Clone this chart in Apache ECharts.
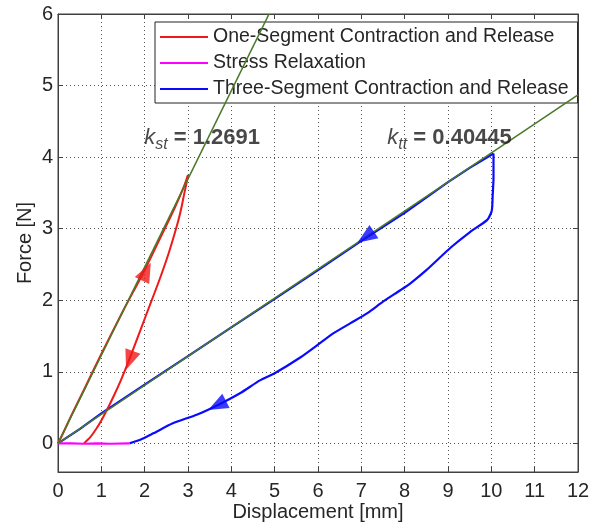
<!DOCTYPE html>
<html><head><meta charset="utf-8">
<script src="https://cdn.jsdelivr.net/npm/echarts@6/dist/echarts.min.js"></script>
<style>html,body{margin:0;padding:0;background:#fff}#c{width:601px;height:522px}</style>
</head><body><div id="c"></div>
<script>
const xTicks = [0,1,2,3,4,5,6,7,8,9,10,11,12];
const yTicks = [0,1,2,3,4,5,6];
const redLoad = [[0,0],[0.1,0.12],[0.3,0.38],[0.6,0.75],[1.0,1.25],[1.5,1.85],[2.0,2.42],[2.4,2.92],[2.7,3.3],[2.9,3.58],[3.0,3.75]];
const redUnload = [[3.0,3.75],[2.96,3.62],[2.91,3.48],[2.85,3.3],[2.78,3.12],[2.7,2.95],[2.55,2.65],[2.35,2.3],[2.15,1.98],[1.9,1.58],[1.65,1.18],[1.45,0.88],[1.3,0.68],[1.14,0.48],[1.0,0.32],[0.88,0.2],[0.75,0.09],[0.6,0.0]];
const magenta = [[0,0],[0.3,0],[0.6,-0.005],[0.9,0],[1.2,-0.005],[1.65,0]];
const blueLoad = [[0,0],[0.5,0.2],[1,0.42],[2,0.82],[3,1.22],[4,1.62],[5,2.02],[6,2.42],[7,2.83],[8,3.22],[9,3.65],[9.5,3.85],[10.05,4.05]];
const blueUnload = [[10.05,4.05],[10.05,3.7],[10.03,3.45],[10.02,3.3],[10.0,3.23],[9.9,3.12],[9.5,2.95],[9.07,2.74],[8.5,2.42],[8.14,2.24],[7.9,2.14],[7.5,1.98],[7.14,1.82],[6.75,1.68],[6.36,1.54],[6.0,1.38],[5.59,1.2],[5.0,0.98],[4.66,0.88],[4.2,0.7],[3.67,0.53],[3.2,0.4],[2.65,0.28],[2.2,0.14],[1.9,0.05],[1.65,0.0]];
const fitSt = [[0,0],[4.87,6]];
const fitTt = [[0,0],[12,4.87]];
const redArrows = [{value:[2.04,2.4], symbolRotate:-26},{value:[1.65,1.16], symbolRotate:160}];
const blueArrows = [{value:[7.1,2.88], symbolRotate:124},{value:[3.67,0.53], symbolRotate:117}];
const kst = {pos:[1.99,4.27], sub:'st', val:'1.2691'};
const ktt = {pos:[7.6,4.27], sub:'tt', val:'0.40445'};

const F = 'Liberation Sans, Arial, sans-serif';
const TXT = '#1a1a1a';
const AX = '#404040';
const chart = echarts.init(document.getElementById('c'));
const dotted = {show:true, lineStyle:{color:'#555', type:[1,3], width:1}};
const RED='#f01818', MAG='#ff00ff', BLUE='#0a0aff', GREEN='#4a7a2a';
function annot(a){
  return {type:'scatter', data:[a.pos], symbolSize:0, z:10, silent:true,
    label:{show:true, position:'right', distance:0,
      formatter:'{k|k}{s|'+a.sub+'}{v| = '+a.val+'}',
      rich:{k:{fontStyle:'italic', fontSize:22, fontFamily:F, color:TXT},
            s:{fontStyle:'italic', fontSize:16, fontFamily:F, color:TXT, padding:[13,0,0,0]},
            v:{fontWeight:'bold', fontSize:22, fontFamily:F, color:TXT}}}};
}
chart.setOption({
  animation:false,
  backgroundColor:'#fff',
  grid:{left:58, right:23, top:14, bottom:50, show:true, borderColor:AX, borderWidth:1, outerBoundsMode:'none', containLabel:false},
  legend:{left:155, top:22, orient:'vertical', backgroundColor:'#fff', borderColor:'#222', borderWidth:1,
    padding:[5,9,4,5], itemGap:6, itemWidth:48, itemHeight:2, icon:'rect',
    textStyle:{fontSize:19.5, fontFamily:F, color:'#262626', lineHeight:20},
    data:['One-Segment Contraction and Release','Stress Relaxation','Three-Segment Contraction and Release']},
  xAxis:[{type:'value', min:0, max:12, interval:1, name:'Displacement [mm]', nameLocation:'middle', nameGap:30, nameMoveOverlap:false,
    nameTextStyle:{fontSize:20, fontFamily:F, color:'#262626'},
    axisLine:{lineStyle:{color:AX}, onZero:false},
    axisTick:{inside:true, length:5, lineStyle:{color:AX}},
    axisLabel:{fontSize:20, fontFamily:F, color:'#262626', margin:9, customValues:xTicks},
    splitLine:dotted},
   {type:'value', min:0, max:12, interval:1, position:'top', axisLine:{lineStyle:{color:AX}, onZero:false},
    axisTick:{inside:true, length:5, lineStyle:{color:AX}}, axisLabel:{show:false}, splitLine:{show:false}}],
  yAxis:[{type:'value', min:-0.4, max:6, name:'Force [N]', nameLocation:'middle', nameGap:23, nameMoveOverlap:false,
    nameTextStyle:{fontSize:20, fontFamily:F, color:'#262626'},
    axisLine:{show:true, lineStyle:{color:AX}, onZero:false},
    axisTick:{show:true, inside:true, length:5, lineStyle:{color:AX}, customValues:yTicks},
    axisLabel:{fontSize:20, fontFamily:F, color:'#262626', margin:5, customValues:yTicks},
    splitLine:dotted},
   {type:'value', min:-0.4, max:6, position:'right',
    axisLine:{show:true, lineStyle:{color:AX}, onZero:false},
    axisTick:{show:true, inside:true, length:5, lineStyle:{color:AX}, customValues:yTicks},
    axisLabel:{show:false, customValues:yTicks}, splitLine:{show:false}}],
  series:[
    {name:'Three-Segment Contraction and Release', type:'line', data:blueLoad, symbol:'none', lineStyle:{color:BLUE, width:2.2}, itemStyle:{color:BLUE}, z:3},
    {name:'Three-Segment Contraction and Release', type:'line', data:blueUnload, symbol:'none', smooth:0.2, lineStyle:{color:BLUE, width:2.2}, itemStyle:{color:BLUE}, z:3},
    {name:'One-Segment Contraction and Release', type:'line', data:redLoad, symbol:'none', smooth:0.2, lineStyle:{color:RED, width:2}, itemStyle:{color:RED}, z:3},
    {name:'One-Segment Contraction and Release', type:'line', data:redUnload, symbol:'none', smooth:0.3, lineStyle:{color:RED, width:2}, itemStyle:{color:RED}, z:3},
    {name:'Stress Relaxation', type:'line', data:magenta, symbol:'none', lineStyle:{color:MAG, width:2.2}, itemStyle:{color:MAG}, z:4},
    {name:'fit1', type:'line', data:fitSt, symbol:'none', lineStyle:{color:GREEN, width:1.6}, z:5, silent:true},
    {name:'fit2', type:'line', data:fitTt, symbol:'none', lineStyle:{color:GREEN, width:1.6}, z:5, silent:true},
    {name:'ra', type:'scatter', data:redArrows, symbol:'triangle', symbolSize:[16,20], itemStyle:{color:RED}, z:6},
    {name:'ba', type:'scatter', data:blueArrows, symbol:'triangle', symbolSize:[16,20], itemStyle:{color:BLUE}, z:6},
    annot(kst), annot(ktt)
  ]
});
</script></body></html>
